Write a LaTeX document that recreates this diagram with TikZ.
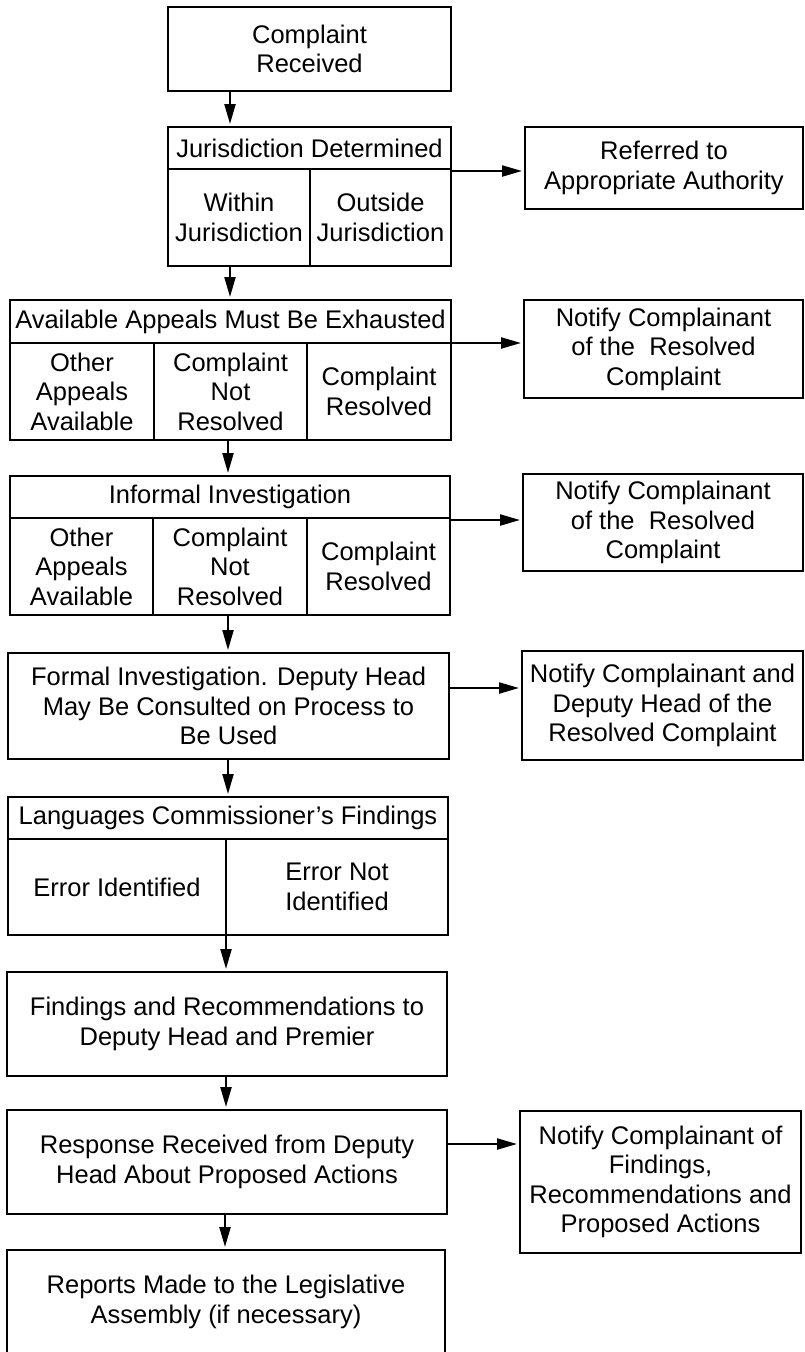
\documentclass[tikz,border=0pt]{standalone}
\usepackage{fontspec}
\setmainfont{Liberation Sans}
\usetikzlibrary{arrows.meta}
\newcommand\boxfont{\fontsize{25.5}{29.5}\selectfont}
\begin{document}
\begin{tikzpicture}[x=1pt,y=-1pt,
  box/.style={draw, line width=1.8pt, inner sep=0pt, outer sep=0pt, align=center, font=\boxfont},
  lbl/.style={inner sep=0pt, align=center, font=\boxfont},
  divline/.style={line width=1.8pt},
  arr/.style={line width=2.2pt, -{Triangle[length=20pt,width=11pt]}, shorten >=3pt}]
\clip (0,0) rectangle (805,1352);
\fill[white] (0,0) rectangle (805,1352);
% coordinates for connector lines
\coordinate (xa) at (230,0);
\coordinate (xb) at (228,0);
\coordinate (xc) at (226,0);
\coordinate (xd) at (225,0);
\coordinate (ya) at (0,171);
\coordinate (yb) at (0,343);
\coordinate (yc) at (0,520);
\coordinate (yd) at (0,688);
\coordinate (ye) at (0,1144);
% boxes
\node[box, minimum width=283pt, minimum height=84pt] (c1) at (309.5,49) {Complaint\\Received};
\node[box, minimum width=283pt, minimum height=139pt] (jd) at (309.5,196.5) {};
\node[lbl] (jdh) at (309.5,148) {Jurisdiction Determined};
\node[lbl] (jdw) at (239,217.5) {Within\\Jurisdiction};
\node[lbl] (jdo) at (380.5,217.5) {Outside\\Jurisdiction};
\draw[divline] (168,169) -- (451,169);
\draw[divline] (310,169) -- (310,266);
\node[box, minimum width=278pt, minimum height=82pt] (ref) at (664,168) {Referred to\\Appropriate Authority};
% appeals
\node[box, minimum width=441pt, minimum height=140pt] (ap) at (230.5,370) {};
\node[lbl] (aph) at (230.5,321.5) {Available Appeals Must Be Exhausted};
\node[lbl] (ap1) at (82,391.5) {Other\\Appeals\\Available};
\node[lbl] (ap2) at (230.5,391.5) {Complaint\\Not\\Resolved};
\node[lbl] (ap3) at (379,391.5) {Complaint\\Resolved};
\draw[divline] (10,343) -- (451,343);
\draw[divline] (154,343) -- (154,440);
\draw[divline] (307,343) -- (307,440);
\node[box, minimum width=279pt, minimum height=98pt] (n1) at (663.5,349) {Notify Complainant\\of the~ Resolved\\Complaint};
% informal
\node[box, minimum width=440pt, minimum height=139pt] (inf) at (230,545.5) {};
\node[lbl] (infh) at (230,497) {Informal Investigation};
\node[lbl] (inf1) at (81.5,566.5) {Other\\Appeals\\Available};
\node[lbl] (inf2) at (230,566.5) {Complaint\\Not\\Resolved};
\node[lbl] (inf3) at (378.5,566.5) {Complaint\\Resolved};
\draw[divline] (10,518) -- (450,518);
\draw[divline] (153,518) -- (153,615);
\draw[divline] (307,518) -- (307,615);
\node[box, minimum width=280pt, minimum height=97pt] (n2) at (663,522.5) {Notify Complainant\\of the~ Resolved\\Complaint};
% formal
\node[box, minimum width=441pt, minimum height=106pt] (fo) at (228.5,706) {Formal Investigation. Deputy Head\\May Be Consulted on Process to\\Be Used};
\node[box, minimum width=281pt, minimum height=109pt] (n3) at (662.5,705.5) {Notify Complainant and\\Deputy Head of the\\Resolved Complaint};
% languages
\node[box, minimum width=440pt, minimum height=138pt] (la) at (228,866) {};
\node[lbl] (lah) at (228,818) {Languages Commissioner's Findings};
\node[lbl] (la1) at (117,887) {Error Identified};
\node[lbl] (la2) at (337,887) {Error Not\\Identified};
\draw[divline] (8,839) -- (448,839);
\draw[divline] (226,839) -- (226,935);
% findings, response, reports
\node[box, minimum width=440pt, minimum height=104pt] (fi) at (227,1024) {Findings and Recommendations to\\Deputy Head and Premier};
\node[box, minimum width=440pt, minimum height=104pt] (re) at (227,1162) {Response Received from Deputy\\Head About Proposed Actions};
\node[box, minimum width=281pt, minimum height=142pt] (n4) at (660.5,1182) {Notify Complainant of\\Findings,\\Recommendations and\\Proposed Actions};
\node[box, minimum width=438pt, minimum height=112pt] (rp) at (226,1306) {};
\node[lbl] (rpt) at (226,1302) {Reports Made to the Legislative\\Assembly (if necessary)};
% connectors
\draw[arr] (c1.south -| xa) -- (jd.north -| xa);
\draw[arr] (jd.south -| xa) -- (ap.north -| xa);
\draw[arr] (ap.south -| xb) -- (inf.north -| xb);
\draw[arr] (inf.south -| xb) -- (fo.north -| xb);
\draw[arr] (fo.south -| xb) -- (la.north -| xb);
\draw[arr] (la.south -| xc) -- (fi.north -| xc);
\draw[arr] (fi.south -| xc) -- (re.north -| xc);
\draw[arr] (re.south -| xd) -- (rp.north -| xd);
\draw[arr] (jd.east |- ya) -- (ref.west |- ya);
\draw[arr] (ap.east |- yb) -- (n1.west |- yb);
\draw[arr] (inf.east |- yc) -- (n2.west |- yc);
\draw[arr] (fo.east |- yd) -- (n3.west |- yd);
\draw[arr] (re.east |- ye) -- (n4.west |- ye);
\end{tikzpicture}
\end{document}
